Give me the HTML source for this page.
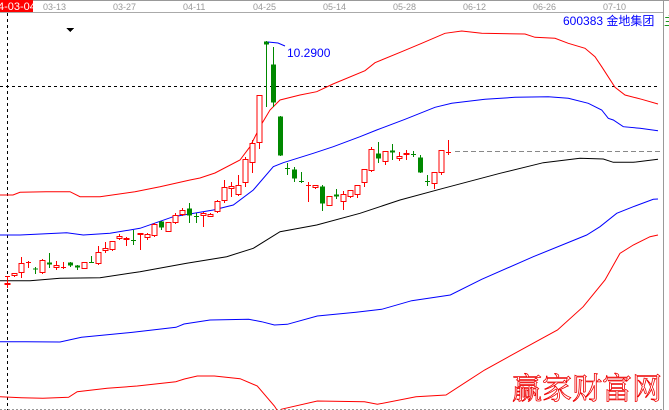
<!DOCTYPE html>
<html><head><meta charset="utf-8"><style>
html,body{margin:0;padding:0;background:#fff;width:669px;height:410px;overflow:hidden}
svg{display:block}
text{font-family:"Liberation Sans","Noto Sans CJK SC",sans-serif}
</style></head><body>
<svg id="s" width="669" height="410" viewBox="0 0 669 410" xmlns="http://www.w3.org/2000/svg" shape-rendering="crispEdges">
<rect x="0" y="0" width="669" height="410" fill="#fff"/>
<line x1="0" y1="0.5" x2="669" y2="0.5" stroke="#999"/>
<line x1="0" y1="12.5" x2="663" y2="12.5" stroke="#aaa"/>
<line x1="663.5" y1="0" x2="663.5" y2="410" stroke="#999"/>
<line x1="0" y1="409.5" x2="663" y2="409.5" stroke="#999" stroke-dasharray="2,2"/>
<rect x="0" y="0" width="33" height="12" fill="#f00"/>
<text x="-2" y="10" font-size="11" fill="#fff">4-03-04</text>
<g font-size="9" fill="#999">
<text x="43" y="10">03-13</text><text x="113" y="10">03-27</text><text x="183" y="10">04-11</text>
<text x="253" y="10">04-25</text><text x="323" y="10">05-14</text><text x="393" y="10">05-28</text>
<text x="463" y="10">06-12</text><text x="533" y="10">06-26</text><text x="603" y="10">07-10</text>
</g>
<line x1="7.5" y1="13" x2="7.5" y2="410" stroke="#000" stroke-dasharray="3,3"/>
<line x1="0" y1="86.5" x2="660" y2="86.5" stroke="#000" stroke-dasharray="3,3"/>
<polygon points="66,28 74,28 70,32" fill="#000"/>
<text x="563" y="25" font-size="12" fill="#00f">600383 金地集团</text>
<text x="664" y="25" font-size="12" fill="#080">主</text>
<line x1="455" y1="151.5" x2="660" y2="151.5" stroke="#888" stroke-dasharray="5,3"/>
<g id="lines" fill="none" stroke-width="1" shape-rendering="auto"></g>
<g id="candles"></g>
<path d="M268,42 L278,43 L285,46" stroke="#00f" fill="none" shape-rendering="auto"/>
<text x="287" y="57" font-size="12" fill="#00f">10.2900</text>
<text x="512" y="399" font-size="30" fill="none" stroke="#e00" stroke-width="0.8" style="font-family:'Noto Serif CJK SC','Noto Sans CJK SC',serif">赢家财富网</text>
</svg>
<script>
var NS="http://www.w3.org/2000/svg";
function pl(pts,c){var p=document.createElementNS(NS,"polyline");p.setAttribute("points",pts.map(function(a){return a[0]+","+a[1]}).join(" "));p.setAttribute("stroke",c);document.getElementById("lines").appendChild(p);}
pl([[0,195],[13,195],[20,192.3],[46,191.7],[70,191.7],[80,196.7],[100,196.7],[135,191.7],[160,186.7],[190,180],[200,178],[215,173],[240,160],[250,146.7],[260,126.7],[270,110],[280,100],[300,95],[316.7,91.7],[333,84],[365,70.7],[375,62.7],[401.7,51.7],[421.7,43.3],[445,33.3],[461.7,31],[481.7,33.3],[525,34],[535,37.3],[555,38.3],[568.3,43.3],[585,48.3],[595,56.7],[601.7,66.7],[615,87.3],[625,95],[641.7,99.3],[658,104]],"#f00");
pl([[0,235],[20,235],[66.7,232.7],[83.3,235],[110,233.3],[140,228.3],[173.3,216.7],[213.3,210],[233.3,205],[253.3,190],[273.3,166.7],[283.3,162.7],[313.3,153.3],[333.3,146.7],[360,136.7],[376.7,130],[405,119.3],[435,107.3],[451.7,103.3],[485,99.3],[515,97.3],[548.3,96.7],[568.3,98.3],[588.3,103.3],[601.7,110],[608.3,118.3],[613.3,120],[623.3,126.7],[640,128.3],[658,130.7]],"#00f");
pl([[0,280.7],[30,280.7],[60,278.3],[100,277.7],[140,271.7],[186.7,263.3],[226.7,256.7],[253.3,248.3],[280,231.7],[316.7,225],[360,213.3],[400,200],[443.3,188.3],[500,173.3],[543.3,162.7],[580,158.3],[603.3,159],[613.3,162.3],[633.3,162.3],[658,159.3]],"#000");
pl([[0,341.7],[25.7,341.7],[60,342],[81.5,337.3],[133,332.3],[176,327.3],[184,324],[210,320],[248.7,319.3],[261.6,321.7],[274.4,325],[287.3,324.3],[317.3,316],[356,312.3],[381.7,309.3],[411.7,300.7],[450.3,295],[481.7,279.3],[533.3,256.7],[586.7,235],[600,226.7],[616.7,213.3],[633.3,206.7],[653.3,199.3],[658,199]],"#00f");
pl([[0,396.7],[21.4,397.7],[42.9,398.3],[68.6,397.3],[77.2,391.7],[107.2,388.3],[137.2,386],[175.8,381.7],[184.4,379],[197.3,376],[214.4,376],[240.1,378.7],[257.3,386],[274.4,406],[277,410]],"#f00");
pl([[281,409.3],[317.3,401],[364.5,401.7],[377.4,404.3],[416,396.7],[446,395],[484.6,370],[536,341.7],[557.5,330],[583.2,306.7],[605,280],[620,253.3],[633.3,245],[650,236.7],[658,235]],"#f00");
var R="#f00",G="#080";
function z(x,bt,bb,wt,wb,c){return [x/3,bt/3+130,bb/3+130,wt/3+130,wb/3+130,c]}
var C=[
[7,283,285,281,288,R],
z(20,437,437,437,465,R),z(42,430,438,428,440,R),z(62,400,430,380,443,R),z(84,396,396,393,415,R),
z(106,413,420,410,433,G),z(126,390,430,388,432,R),z(148,397,404,370,415,G),z(168,406,414,393,420,R),
z(188,410,410,395,418,R),z(210,397,407,397,410,G),z(230,405,415,405,420,G),z(252,397,417,397,417,R),
z(272,396,400,378,400,G),z(294,367,403,348,405,R),z(314,355,363,335,370,R),z(336,333,361,333,362,R),
z(356,318,327,313,330,R),z(378,325,331,322,347,R),z(400,330,330,300,344,G),z(420,310,316,308,360,R),
z(440,313,325,310,330,R),z(462,283,317,280,320,R),z(484,273,295,273,300,G),z(504,276,305,276,305,R),
z(526,255,280,250,282,R),z(546,240,256,235,258,R),z(568,235,258,220,278,G),z(588,258,258,250,280,G),
z(610,250,258,245,290,R),z(630,252,260,250,262,R),z(650,212,245,210,250,R),z(672,170,212,150,218,R),
z(694,168,176,157,200,R),z(714,165,196,135,198,R),z(736,88,160,82,172,R),
[252,143,163,140,173,R],[258.7,95,143,95,149,R],[266,41,45,41,107,G],[272.7,64,103,47,107,G],
[280,116,156,116,156,G],[287.3,168,168,163,175,G],[294,169,179,167,182,G],[300.7,181,181,172,183,G],
[308,185,185,182,202,R],[314.7,185,188,185,189,R],[322,186,204,185,211,G],[328.7,196,206,196,206,R],
[336,194,197,189,199,G],[343.3,194,202,191,210,R],[350,190,197,190,198,R],[356.7,185,195,185,198,R],
[364,169,183,169,187,R],[370.7,149,171,147,172,R],[378,153,159,142,163,G],[384.7,151,162,151,165,R],
[392,150,153,144,160,G],[398.7,156,159,152,161,R],[406,153,155,150,160,R],[413.3,154,154,151,157,G],
[420,157,173,155,173,G],[426.7,181,181,175,186,G],[434,172,184,172,189,R],[440.7,150,173,150,175,R],
[448,152,152,140,155,R]
];
var cg=document.getElementById("candles");
C.forEach(function(c){
 var x=Math.round(c[0])+0.5,bt=Math.round(c[1]),bb=Math.round(c[2]),col=c[5];
 var l=document.createElementNS(NS,"line");l.setAttribute("x1",x);l.setAttribute("x2",x);l.setAttribute("y1",Math.round(c[3]));l.setAttribute("y2",Math.round(c[4]));l.setAttribute("stroke",col);cg.appendChild(l);
 var r=document.createElementNS(NS,"rect");
 var h=Math.max(bb-bt,1);
 r.setAttribute("x",x-2.5);r.setAttribute("width",5);r.setAttribute("y",bt+(h<2?0:0.5));r.setAttribute("height",h<2?1:h-1);
 if(col==R){r.setAttribute("fill",h<2?R:"#fff");r.setAttribute("stroke",h<2?"none":R);}
 else{r.setAttribute("fill",G);}
 cg.appendChild(r);
});
</script>
</body></html>
